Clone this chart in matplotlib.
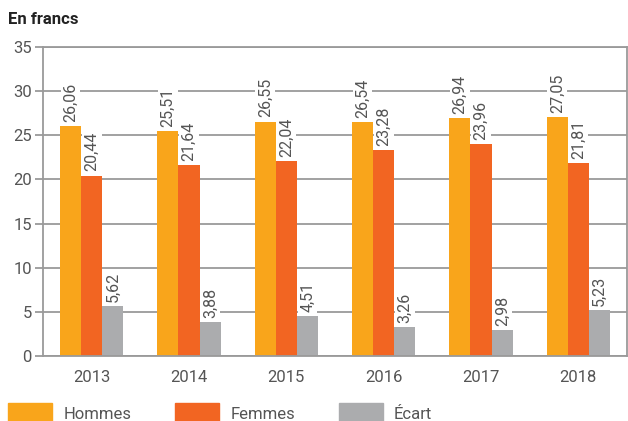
import numpy as np
import matplotlib.pyplot as plt
from matplotlib.patches import Patch

years = ['2013', '2014', '2015', '2016', '2017', '2018']
hommes = [26.06, 25.51, 26.55, 26.54, 26.94, 27.05]
femmes = [20.44, 21.64, 22.04, 23.28, 23.96, 21.81]
ecart = [5.62, 3.88, 4.51, 3.26, 2.98, 5.23]

plt.rcParams['font.family'] = ['Roboto', 'DejaVu Sans']

c_h = '#F9A51B'
c_f = '#F26522'
c_e = '#ABACAE'
grid_c = '#9A9A9A'
txt_c = '#555555'

fig = plt.figure(figsize=(6.28, 4.21), dpi=100)
ax = fig.add_axes([43/628, 1 - 356/421, 584/628, 309/421])

x = np.arange(len(years))
w = 0.218
series = [(hommes, c_h, -w), (femmes, c_f, 0), (ecart, c_e, w)]
for vals, col, off in series:
    ax.bar(x + off, vals, w, color=col, zorder=2)
    for xi, v in zip(x, vals):
        ax.annotate(f'{v:.2f}'.replace('.', ','), (xi + off, v), xytext=(0, 3),
                    textcoords='offset points', rotation=90, ha='center', va='bottom',
                    fontsize=11.5, color=txt_c, zorder=3,
                    bbox=dict(boxstyle='square,pad=0.15', fc='white', ec='none'))

ax.set_xlim(-0.5, 5.5)
ax.set_ylim(0, 35)
ax.set_yticks(range(0, 36, 5))
ax.set_xticks(x)
ax.set_xticklabels(years)
ax.yaxis.grid(True, color=grid_c, lw=1.3, zorder=0)
ax.set_axisbelow(True)
for s in ax.spines.values():
    s.set_color(grid_c)
    s.set_linewidth(1.3)
ax.tick_params(axis='y', length=6, width=1.3, color=grid_c, labelsize=12, labelcolor=txt_c, pad=2)
ax.tick_params(axis='x', length=0, labelsize=12, labelcolor=txt_c, pad=10)

fig.text(8/628, 1 - 19/421, 'En francs', fontsize=12, fontweight='bold', color='#222222', va='center')

handles = [Patch(color=c_h, label='Hommes'), Patch(color=c_f, label='Femmes'), Patch(color=c_e, label='Écart')]
leg = fig.legend(handles=handles, loc='lower left', bbox_to_anchor=(0, -11/421), ncol=3, frameon=False,
                 fontsize=12, handlelength=2.64, handleheight=1.5,
                 handletextpad=0.66, columnspacing=2.64, labelcolor=txt_c, borderaxespad=0.1)

fig.savefig('out.png', dpi=100)
